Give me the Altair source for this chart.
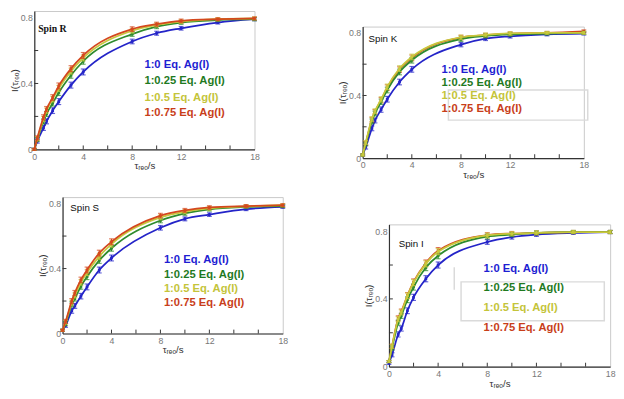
import altair as alt
import pandas as pd

# ---------------- data ----------------
x_vals = [0, 0.25, 0.75, 1, 1.5, 2, 3, 4, 8, 10, 12, 15, 18]
err = [0.006, 0.012, 0.015, 0.015, 0.017, 0.018, 0.018, 0.018, 0.014, 0.012, 0.011, 0.009, 0.009]

series_names = ["1:0 Eq. Ag(I)", "1:0.25 Eq. Ag(I)", "1:0.5 Eq. Ag(I)", "1:0.75 Eq. Ag(I)"]
line_colors = ["#2424c8", "#2e8b2e", "#c8c83c", "#d4481e"]
text_colors = ["#1e1ed2", "#1f7a1f", "#c4c43a", "#c83e1a"]

r_blue = [0.0, 0.05, 0.13, 0.17, 0.235, 0.29, 0.39, 0.47, 0.655, 0.705, 0.735, 0.77, 0.79]
r_green = [0.0, 0.06, 0.17, 0.215, 0.28, 0.345, 0.45, 0.535, 0.70, 0.745, 0.77, 0.785, 0.79]
r_yellow = [0.0, 0.065, 0.185, 0.235, 0.305, 0.37, 0.475, 0.555, 0.72, 0.755, 0.775, 0.79, 0.795]
r_red = [0.0, 0.07, 0.195, 0.245, 0.315, 0.385, 0.49, 0.57, 0.73, 0.76, 0.78, 0.79, 0.795]

k_blue = [0.02, 0.07, 0.19, 0.24, 0.31, 0.376, 0.486, 0.567, 0.725, 0.763, 0.778, 0.79, 0.795]
k_green = [0.02, 0.09, 0.235, 0.285, 0.36, 0.435, 0.55, 0.625, 0.76, 0.78, 0.79, 0.795, 0.80]
k_yellow = [0.02, 0.10, 0.25, 0.30, 0.375, 0.455, 0.572, 0.646, 0.772, 0.787, 0.796, 0.80, 0.80]
k_red = [0.02, 0.095, 0.245, 0.295, 0.37, 0.45, 0.565, 0.64, 0.77, 0.785, 0.795, 0.80, 0.81]

s_blue = [0.02, 0.05, 0.14, 0.17, 0.23, 0.287, 0.391, 0.465, 0.651, 0.706, 0.732, 0.766, 0.78]
s_green = [0.02, 0.06, 0.18, 0.215, 0.29, 0.35, 0.45, 0.525, 0.696, 0.74, 0.765, 0.78, 0.785]
s_yellow = [0.02, 0.07, 0.19, 0.235, 0.315, 0.375, 0.475, 0.55, 0.715, 0.75, 0.77, 0.783, 0.79]
s_red = [0.02, 0.075, 0.2, 0.25, 0.33, 0.391, 0.495, 0.565, 0.726, 0.758, 0.776, 0.785, 0.79]

i_blue = [0.02, 0.07, 0.19, 0.225, 0.33, 0.409, 0.519, 0.60, 0.736, 0.765, 0.78, 0.79, 0.795]
i_green = [0.03, 0.11, 0.26, 0.30, 0.395, 0.47, 0.585, 0.655, 0.768, 0.78, 0.79, 0.795, 0.795]
i_yellow = [0.03, 0.12, 0.28, 0.32, 0.418, 0.496, 0.607, 0.679, 0.775, 0.785, 0.79, 0.795, 0.795]
i_red = [0.03, 0.12, 0.285, 0.325, 0.42, 0.50, 0.612, 0.685, 0.777, 0.786, 0.79, 0.795, 0.795]

x_tick_label_vals = [0, 4, 8, 12, 18]
y_tick_label_vals = [0, 0.4, 0.8]
x_minor = [2, 4, 6, 8, 10, 12, 14, 16]
y_minor = [0.2, 0.4, 0.6]

FONT = "Liberation Sans"


def panel(title, values, w, h, order, spin_font, spin_weight, spin_xy, leg_x, leg_ys,
          ghosts=()):
    xs = alt.Scale(domain=[0, 18], nice=False, zero=False)
    ys = alt.Scale(domain=[0, 0.84], nice=False)
    common = dict(ticks=False, grid=False, domainColor="#333333", domainWidth=1.2,
                  labelColor="#777777", labelFontSize=9, labelFont=FONT,
                  titleFont=FONT, titleFontSize=10, titleFontWeight="normal",
                  titleColor="#333333", labelFlush=False)
    xax = alt.Axis(values=x_tick_label_vals, labelPadding=3, title="τᵣₑₒ/s",
                   titlePadding=0, **common)
    yax = alt.Axis(values=y_tick_label_vals, format="~g", labelPadding=2,
                   title="I(τᵣₑₒ)", titlePadding=1, **common)
    X = alt.X("x:Q", scale=xs, axis=xax)
    Y = alt.Y("y:Q", scale=ys, axis=yax)

    layers = []
    # faint remnants of legend boxes
    for (gx1, gy1, gx2, gy2) in ghosts:
        layers.append(alt.Chart(pd.DataFrame({"a": [0]})).mark_rect(
            fillOpacity=0, stroke="#dadada", strokeWidth=1.5).encode(
            x=alt.value(gx1), x2=alt.value(gx2), y=alt.value(gy1), y2=alt.value(gy2)))
    # inward ticks
    layers.append(alt.Chart(pd.DataFrame({"x": x_minor})).mark_rule(
        color="#333333", strokeWidth=1).encode(X, y=alt.value(h), y2=alt.value(h - 4)))
    layers.append(alt.Chart(pd.DataFrame({"y": y_minor})).mark_rule(
        color="#333333", strokeWidth=1).encode(Y, x=alt.value(0), x2=alt.value(4)))

    for i in order:
        df = pd.DataFrame({"x": x_vals, "y": values[i], "e": err})
        df["lo"] = df["y"] - df["e"]
        df["hi"] = df["y"] + df["e"]
        base = alt.Chart(df)
        col = line_colors[i]
        Ylo = alt.Y("lo:Q", scale=ys, axis=yax)
        Yhi = alt.Y("hi:Q", scale=ys, axis=yax)
        layers.append(base.mark_line(interpolate="monotone", color=col,
                                     strokeWidth=1.8).encode(X, Y))
        layers.append(base.mark_rule(color=col, strokeWidth=1.2).encode(X, Ylo, y2="hi:Q"))
        layers.append(base.mark_tick(orient="horizontal", color=col, size=5,
                                     thickness=1.2).encode(X, Ylo))
        layers.append(base.mark_tick(orient="horizontal", color=col, size=5,
                                     thickness=1.2).encode(X, Yhi))
        layers.append(base.mark_square(color=col, size=8, opacity=1).encode(X, Y))

    # panel label
    layers.append(alt.Chart(pd.DataFrame({"t": [title]})).mark_text(
        align="left", baseline="middle", font=spin_font, fontWeight=spin_weight,
        fontSize=10, color="#111111").encode(
        x=alt.value(spin_xy[0]), y=alt.value(spin_xy[1]), text="t:N"))
    # legend texts
    for k in range(4):
        layers.append(alt.Chart(pd.DataFrame({"t": [series_names[k]]})).mark_text(
            align="left", baseline="middle", font=FONT, fontWeight="bold",
            fontSize=11.5, color=text_colors[k]).encode(
            x=alt.value(leg_x), y=alt.value(leg_ys[k]), text="t:N"))

    return alt.layer(*layers).properties(width=w, height=h)


def dummy():
    # invisible 1x1 spacer view used to offset panels inside the layout
    return alt.Chart(pd.DataFrame({"a": [0]})).mark_rule(opacity=0).encode(
        x=alt.value(0), y=alt.value(0), y2=alt.value(1)
    ).properties(width=1, height=1, view=alt.ViewBackground(stroke="transparent"))


pR = panel("Spin R", [r_blue, r_green, r_yellow, r_red], 226, 142, [0, 1, 2, 3],
           "Liberation Serif", "bold", (4, 19), 113, [55, 72, 89, 105])
pK = panel("Spin K", [k_blue, k_green, k_yellow, k_red], 227, 135, [0, 3, 1, 2],
           FONT, "normal", (6, 13), 81, [45, 58, 71, 85],
           ghosts=[(88, 65, 231, 96)])
pS = panel("Spin S", [s_blue, s_green, s_yellow, s_red], 226, 140, [0, 1, 2, 3],
           FONT, "normal", (8, 11), 104, [65, 80, 94.5, 109])
pI = panel("Spin I", [i_blue, i_green, i_yellow, i_red], 227, 146, [0, 3, 1, 2],
           FONT, "normal", (10, 20), 97, [46, 65, 86, 106],
           ghosts=[(74, 59, 221, 99), (67, 44, 67, 67)])

row1 = alt.hconcat(pR, alt.vconcat(dummy(), pK, spacing=13), spacing=78)
row2 = alt.hconcat(alt.hconcat(dummy(), pS, spacing=0),
                   alt.vconcat(dummy(), pI, spacing=25), spacing=76)

chart = alt.vconcat(row1, row2, spacing=16).properties(
    padding={"top": -3, "left": 0, "right": 0, "bottom": 0}, background="white"
).configure_view(stroke="#c8c8c8", strokeWidth=1)

chart.save("out.html", embed_options={"renderer": "svg", "actions": False})
